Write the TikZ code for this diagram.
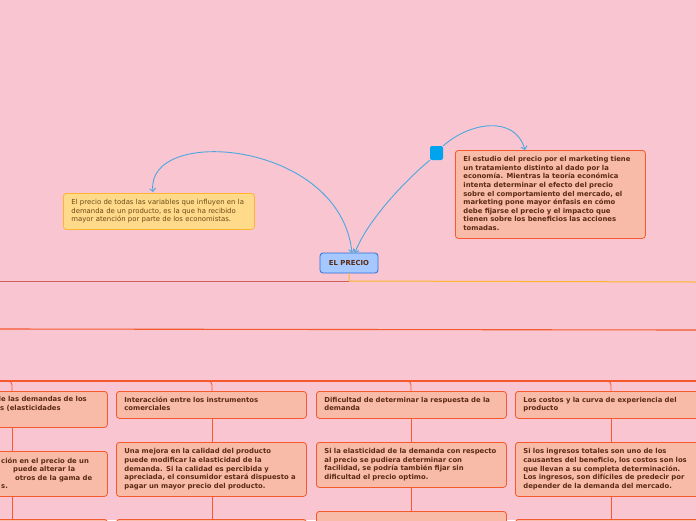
\documentclass[tikz,border=0pt]{standalone}
\usepackage{fontspec}
\setmainfont{DejaVu Sans}
\usetikzlibrary{arrows.meta}
\definecolor{bg}{HTML}{F9C5D0}
\definecolor{ofill}{HTML}{F8BBA8}
\definecolor{ored}{HTML}{F5592E}
\definecolor{otext}{HTML}{5A2A12}
\definecolor{yfill}{HTML}{FFDA8B}
\definecolor{yline}{HTML}{FFB52E}
\definecolor{ytext}{HTML}{6B4A12}
\definecolor{bfill}{HTML}{A4C8FF}
\definecolor{bline}{HTML}{2E6FD8}
\definecolor{curve}{HTML}{4AA8E0}
\definecolor{sq}{HTML}{00A3EE}
\definecolor{redline}{HTML}{D2605A}
\newcommand\lns[1]{\begin{tabular}{@{}l@{}}#1\end{tabular}}
\tikzset{
  obox/.style={draw=ored, fill=ofill, rounded corners=3pt, line width=0.8pt,
    text=otext, font=\bfseries\fontsize{6.85}{8.6}\selectfont, align=left,
    text width=174pt, inner xsep=8pt, inner ysep=0pt, anchor=north west},
  ybox/.style={draw=yline, fill=yfill, rounded corners=3pt, line width=0.8pt,
    text=ytext, font=\fontsize{6.9}{8.6}\selectfont, align=left,
    text width=175pt, inner xsep=8pt, inner ysep=0pt, anchor=north west},
  frag/.style={text=otext, font=\bfseries\fontsize{6.85}{8.6}\selectfont, align=left,
    inner sep=0pt, anchor=north west},
  link/.style={draw=curve, line width=0.9pt},
  tree/.style={draw=ored, line width=0.8pt},
  barb/.tip={Straight Barb[length=3pt,width=6pt]}
}
\begin{document}
\begin{tikzpicture}[x=1pt,y=-1pt]
\useasboundingbox (0,0) rectangle (696,520);
\fill[bg] (0,0) rectangle (696,520);
\clip (0,0) rectangle (696,520);

% top nodes
\node[ybox, minimum height=36pt] (yel) at (63,193)
  {\lns{El precio de todas las variables que influyen en la\\demanda de un producto, es la que ha recibido\\mayor atención por parte de los economistas.}};
\node[obox, minimum height=88pt] (mkt) at (455,150)
  {\lns{El estudio del precio por el marketing tiene\\un tratamiento distinto al dado por la\\economía. Mientras la teoría económica\\intenta determinar el efecto del precio\\sobre el comportamiento del mercado, el\\marketing pone mayor énfasis en cómo\\debe fijarse el precio y el impacto que\\tienen sobre los beneficios las acciones\\tomadas.}};
\node[draw=bline, fill=bfill, rounded corners=3pt, line width=0.8pt, text=otext,
  font=\bfseries\fontsize{6.9}{8}\selectfont, minimum width=58pt, minimum height=20pt,
  inner sep=0pt] (root) at (349,263) {EL PRECIO};
\node[fill=sq, rounded corners=2pt, minimum width=13pt, minimum height=14pt, inner sep=0pt] (sq) at (436.5,153) {};

% relationship curves
\coordinate (ytop) at (153,192);
\coordinate (rtopa) at (352,253);
\coordinate (rtopb) at (355,253);
\coordinate (mtop) at (525,150);
\draw[link, {barb}-{barb}] (ytop) .. controls (145,125) and (340,140) .. (rtopa);
\draw[link, -{barb}] (sq.south west) .. controls (400,185) and (365,225) .. (rtopb);
\draw[link, -{barb}] (sq.north east) .. controls (470,122) and (515,115) .. (mtop);

% main branches
\coordinate (bl) at (0,281);
\coordinate (bj) at (349,281);
\coordinate (br) at (696,282);
\draw[draw=redline, line width=1pt] (bl) -- (bj);
\draw[draw=yline, line width=1pt] (root.south) -- (bj) -- (br);
\coordinate (ml) at (0,329);
\coordinate (mr) at (696,330);
\draw[tree, line width=1.1pt] (ml) -- (mr);
\coordinate (ll) at (0,381);
\coordinate (lr) at (696,381);
\draw[tree, line width=1.3pt] (ll) -- (lr);

% column 1 (partly outside)
\node[obox, minimum height=36pt] (c1a) at (-83,391) {};
\node[frag] (c1at) at (-4,396.5) {de las demandas de los\\\hspace*{4pt}s (elasticidades};
\node[obox, minimum height=45pt] (c1b) at (-83,451) {};
\node[frag] (c1bt) at (1,457.5) {ción en el precio de un\\\hspace*{12pt}puede alterar la\\\hspace*{14pt}otros de la gama de\\s.};
\node[obox, minimum height=40pt] (c1c) at (-83,519) {};

% column 2
\node[obox, minimum height=27pt] (c2a) at (116,391) {\lns{Interacción entre los instrumentos\\comerciales}};
\node[obox, minimum height=54pt] (c2b) at (116,442) {\lns{Una mejora en la calidad del producto\\puede modificar la elasticidad de la\\demanda. Si la calidad es percibida y\\apreciada, el consumidor estará dispuesto a\\pagar un mayor precio del producto.}};
\node[obox, minimum height=40pt] (c2c) at (116,519) {};

% column 3
\node[obox, minimum height=27pt] (c3a) at (316,391) {\lns{Dificultad de determinar la respuesta de la\\demanda}};
\node[obox, minimum height=45pt] (c3b) at (316,442) {\lns{Si la elasticidad de la demanda con respecto\\al precio se pudiera determinar con\\facilidad, se podría también fijar sin\\dificultad el precio optimo.}};
\node[obox, minimum height=40pt] (c3c) at (316,511) {};

% column 4
\node[obox, minimum height=27pt] (c4a) at (515,391) {\lns{Los costos y la curva de experiencia del\\producto}};
\node[obox, minimum height=54pt] (c4b) at (515,442) {\lns{Si los ingresos totales son uno de los\\causantes del beneficio, los costos son los\\que llevan a su completa determinación.\\Los ingresos, son difíciles de predecir por\\depender de la demanda del mercado.}};
\node[obox, minimum height=40pt] (c4c) at (515,519) {};

% drops from the bottom branch line
\foreach \x in {12,212,411,611}{
  \draw[tree] (\x-4,381) to[out=0,in=90] (\x,385) -- (\x,391);
}
% vertical connectors
\draw[tree] (12,427) -- (12,451);
\draw[tree] (12,496) -- (12,519);
\draw[tree] (212,418) -- (212,442);
\draw[tree] (212,496) -- (212,519);
\draw[tree] (411,418) -- (411,442);
\draw[tree] (411,487) -- (411,511);
\draw[tree] (611,418) -- (611,442);
\draw[tree] (611,496) -- (611,519);
\end{tikzpicture}
\end{document}
